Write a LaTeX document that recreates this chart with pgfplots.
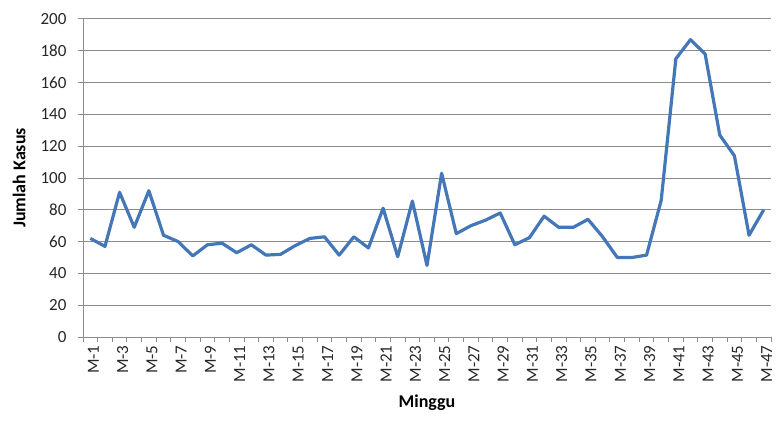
\documentclass[border=0pt]{standalone}
\usepackage{pgfplots}
\pgfplotsset{compat=1.18}
\usepackage{fontspec}
\setmainfont{Carlito}
\definecolor{linecol}{HTML}{4377B8}
\definecolor{gridcol}{HTML}{8C8C8C}
\begin{document}
\begin{tikzpicture}
\path[use as bounding box] (0,0) rectangle (779pt,421pt);
\begin{axis}[
  at={(83pt,84pt)}, anchor=south west,
  scale only axis, width=688pt, height=318pt,
  xmin=0.5, xmax=47.5, ymin=0, ymax=200,
  ytick={0,20,...,200},
  xtick={1,3,...,47},
  xticklabels={M-1,M-3,M-5,M-7,M-9,M-11,M-13,M-15,M-17,M-19,M-21,M-23,M-25,M-27,M-29,M-31,M-33,M-35,M-37,M-39,M-41,M-43,M-45,M-47},
  minor xtick={0.5,1.5,...,47.5},
  axis x line*=bottom, axis y line*=left,
  axis line style={gridcol, line width=1pt, -},
  ymajorgrids, grid style={gridcol, line width=1pt},
  tick align=outside,
  major tick length=5pt, minor tick length=5pt,
  x tick style={draw=none},
  minor x tick style={draw=gridcol, line width=1pt},
  y tick style={gridcol, line width=1pt},
  /pgf/number format/assume math mode=true,
  yticklabel style={font=\fontsize{17pt}{20pt}\selectfont, text=black!85, anchor=east, xshift=-8pt},
  xticklabel style={font=\fontsize{17pt}{20pt}\selectfont, text=black!85, rotate=90, anchor=east, yshift=-3pt},
  xlabel={Minggu}, ylabel={Jumlah Kasus},
  xlabel style={font=\fontsize{18pt}{21pt}\selectfont\bfseries, at={(axis description cs:0.5,-0.2075)}, anchor=center},
  ylabel style={font=\fontsize{18pt}{21pt}\selectfont\bfseries, at={(axis description cs:-0.093,0.5)}, anchor=center},
  clip=false,
]
\addplot[linecol, line width=3.2pt, line join=round, mark=none] coordinates {
(1,62) (2,57) (3,91) (4,69) (5,92) (6,64) (7,60) (8,51) (9,58) (10,59)
(11,53) (12,58) (13,51.5) (14,52) (15,57.5) (16,62) (17,63) (18,51.5) (19,63) (20,56)
(21,81) (22,50.5) (23,85.5) (24,45) (25,103) (26,65) (27,70) (28,73.5) (29,78) (30,58)
(31,62.5) (32,76) (33,69) (34,69) (35,74) (36,63) (37,50) (38,50) (39,51.5) (40,86)
(41,175) (42,187) (43,178) (44,127) (45,114) (46,64) (47,80)
};
\end{axis}
\end{tikzpicture}
\end{document}
